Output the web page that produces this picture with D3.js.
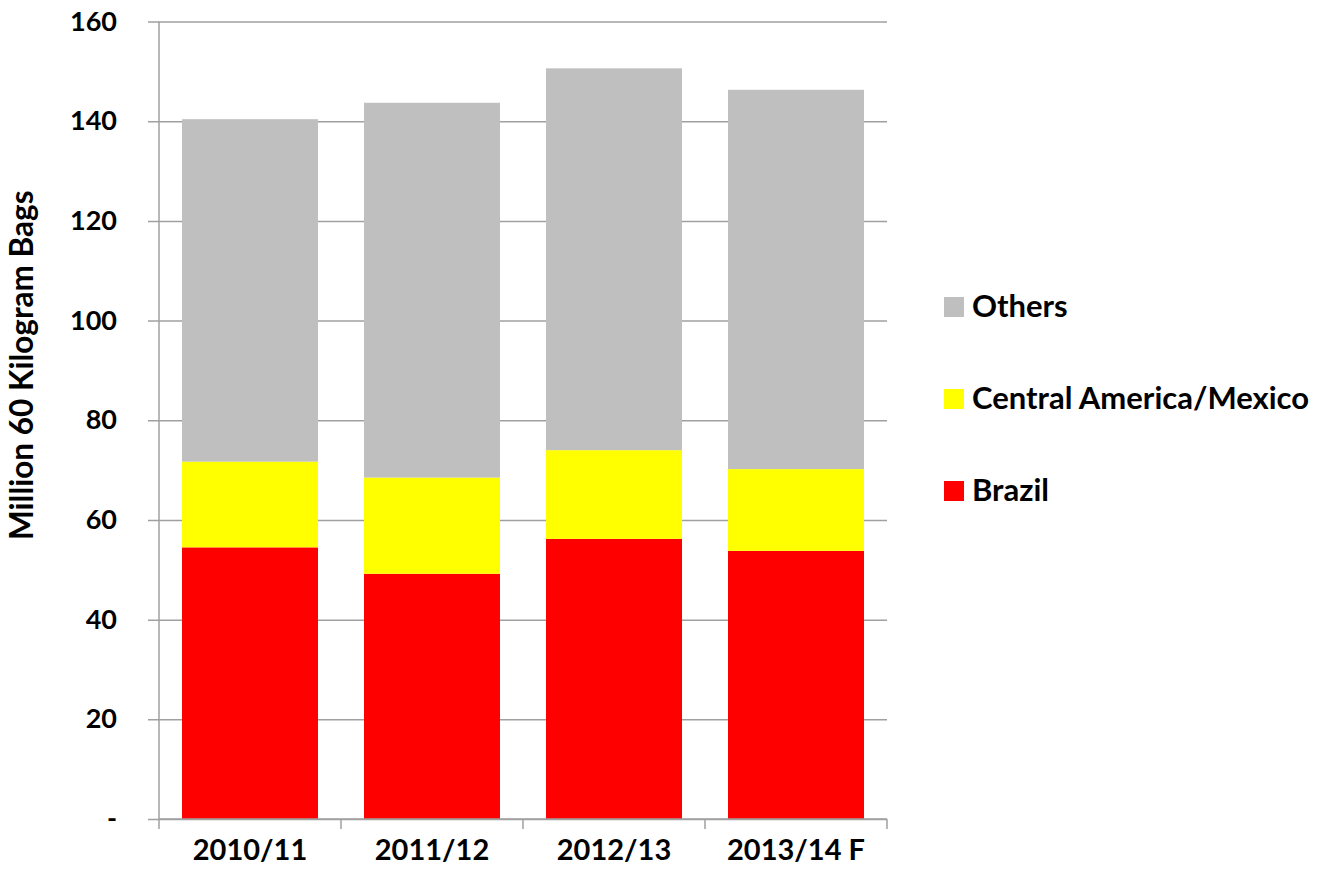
<!DOCTYPE html>
<html>
<head>
<meta charset="utf-8">
<script src="https://cdn.jsdelivr.net/npm/d3@7"></script>
<style>
  html, body { margin: 0; padding: 0; background: #fff; overflow: hidden; }
  svg { display: block; }
</style>
</head>
<body>
<div id="chart"></div>
<script>
// Data
const seasons = ["2010/11", "2011/12", "2012/13", "2013/14 F"];
const brazil = [54.5, 49.2, 56.2, 53.8];
const centralAmerica = [17.2, 19.3, 17.8, 16.4];
const others = [68.7, 75.2, 76.6, 76.1];
const seriesNames = ["Brazil", "Central America/Mexico", "Others"];
const seriesColors = ["#ff0000", "#ffff00", "#bfbfbf"];
const yTicks = [0, 20, 40, 60, 80, 100, 120, 140, 160];

const width = 1326, height = 878;
const margin = { top: 21.5, right: 439, bottom: 59, left: 159 };
const innerWidth = width - margin.left - margin.right;
const innerHeight = height - margin.top - margin.bottom;
const font = "Lato, 'Open Sans', sans-serif";

const svg = d3.select("#chart").append("svg")
    .attr("width", width)
    .attr("height", height);

const g = svg.append("g")
    .attr("transform", `translate(${margin.left},${margin.top})`);

// table for the stack
const table = seasons.map((s, i) => ({
    season: s,
    "Brazil": brazil[i],
    "Central America/Mexico": centralAmerica[i],
    "Others": others[i]
}));
const stacked = d3.stack().keys(seriesNames)(table);

const x = d3.scaleBand()
    .domain(seasons)
    .range([0, innerWidth])
    .paddingInner(0.2527)
    .paddingOuter(0.1264);

const y = d3.scaleLinear()
    .domain([0, 160])
    .range([innerHeight, 0]);

const color = d3.scaleOrdinal().domain(seriesNames).range(seriesColors);

// gridlines + y axis
const yAxis = g.append("g")
    .attr("font-family", font)
    .attr("font-size", 27)
    .call(d3.axisLeft(y)
        .tickValues(yTicks)
        .tickSize(-innerWidth)
        .tickPadding(42)
        .tickFormat(d => d === 0 ? "-" : d));
yAxis.attr("font-family", font).attr("font-size", 27).attr("font-weight", "bold");
yAxis.select(".domain").remove();
yAxis.selectAll(".tick line")
    .attr("x1", -11)
    .attr("stroke", "#a0a0a0")
    .attr("stroke-width", 1.5);
yAxis.selectAll(".tick text")
    .attr("fill", "#000");

// bars
g.append("g")
    .selectAll("g")
    .data(stacked)
    .join("g")
    .attr("fill", d => color(d.key))
    .selectAll("rect")
    .data(d => d)
    .join("rect")
    .attr("x", d => x(d.data.season))
    .attr("y", d => y(d[1]))
    .attr("width", x.bandwidth())
    .attr("height", d => y(d[0]) - y(d[1]));

// y axis line
g.append("line")
    .attr("x1", 0).attr("x2", 0)
    .attr("y1", 0).attr("y2", innerHeight)
    .attr("stroke", "#a0a0a0")
    .attr("stroke-width", 1.5);

// x axis with ticks between categories
const step = x.step();
const xAxis = g.append("g")
    .attr("transform", `translate(0,${innerHeight})`);
xAxis.append("line")
    .attr("x1", 0).attr("x2", innerWidth)
    .attr("stroke", "#a0a0a0")
    .attr("stroke-width", 1.5);
xAxis.selectAll("line.sep")
    .data(d3.range(seasons.length + 1))
    .join("line")
    .attr("class", "sep")
    .attr("x1", i => i * step).attr("x2", i => i * step)
    .attr("y1", 0).attr("y2", 10)
    .attr("stroke", "#a0a0a0")
    .attr("stroke-width", 1.5);
xAxis.selectAll("text.lab")
    .data(seasons)
    .join("text")
    .attr("class", "lab")
    .attr("x", d => x(d) + x.bandwidth() / 2)
    .attr("y", 41)
    .attr("text-anchor", "middle")
    .attr("font-family", font)
    .attr("font-weight", "bold")
    .attr("font-size", 29)
    .text(d => d);

// y axis title
svg.append("text")
    .attr("transform", `translate(33,${margin.top + innerHeight / 2 - 55}) rotate(-90)`)
    .attr("text-anchor", "middle")
    .attr("font-family", font)
    .attr("font-weight", "bold")
    .attr("font-size", 31.5)
    .text("Million 60 Kilogram Bags");

// legend
const legendItems = seriesNames.slice().reverse();
const legend = svg.append("g")
    .attr("transform", "translate(944,297)");
const li = legend.selectAll("g")
    .data(legendItems)
    .join("g")
    .attr("transform", (d, i) => `translate(0,${i * 92})`);
li.append("rect")
    .attr("width", 20)
    .attr("height", 20)
    .attr("fill", d => color(d));
li.append("text")
    .attr("x", 28)
    .attr("y", 20)
    .attr("font-family", font)
    .attr("font-weight", "bold")
    .attr("font-size", 31)
    .text(d => d);
</script>
</body>
</html>
